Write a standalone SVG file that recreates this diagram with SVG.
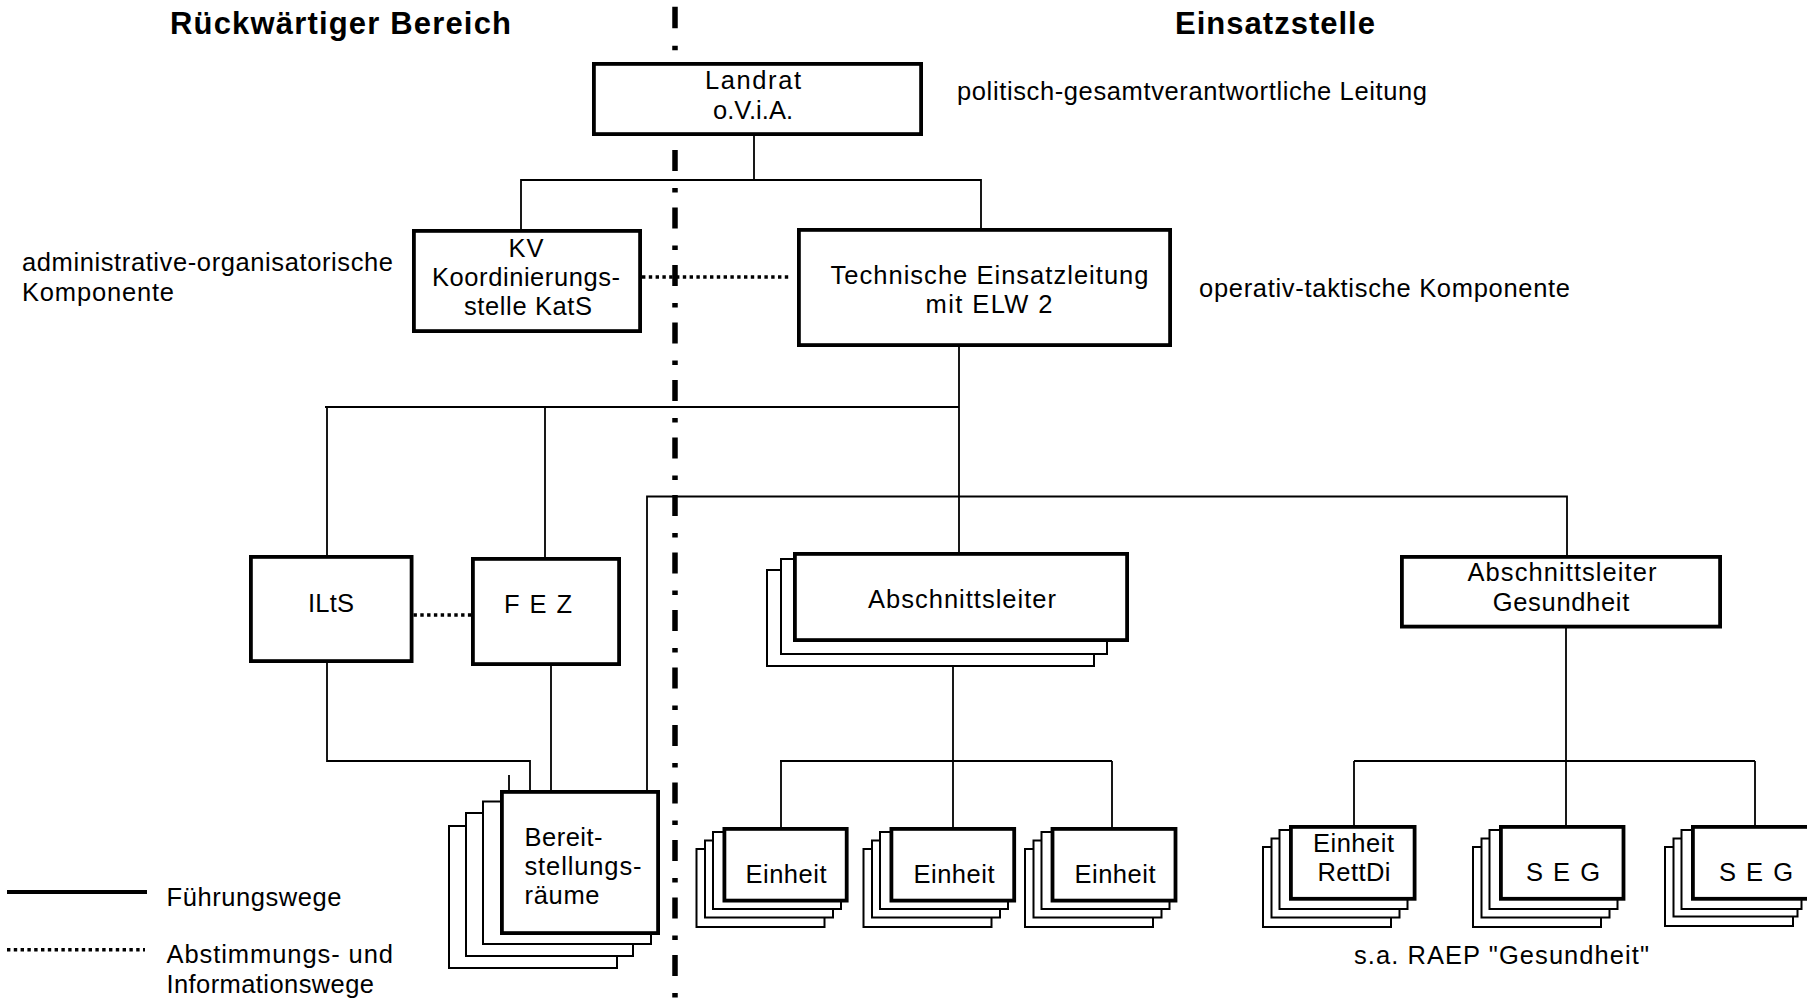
<svg xmlns="http://www.w3.org/2000/svg" width="1807" height="998" viewBox="0 0 1807 998">
<style>
.box{fill:#fff;stroke:#000;stroke-width:3.8}
.layer{fill:#fff;stroke:#000;stroke-width:2}
.ln{fill:none;stroke:#000;stroke-width:1.8}
.dot{fill:none;stroke:#000;stroke-width:3.5;stroke-dasharray:3.4 3.4}
.div{fill:none;stroke:#000;stroke-width:5.5}
.t{font-family:"Liberation Sans",Arial,Helvetica,sans-serif;font-size:25.5px;fill:#000}
.tb{font-weight:bold;font-size:31px}
.m{text-anchor:middle}
</style>
<rect width="1807" height="998" fill="#fff"/>
<g id="divider">
<path class="div" d="M675 6.7V50.5" stroke-dasharray="21.5 17.5 4.5 100"/>
<path class="div" d="M675 150V998" stroke-dasharray="21 17 4.5 15"/>
</g>
<g id="labels">
<text class="t tb" x="170" y="34" textLength="341" lengthAdjust="spacing">Rückwärtiger Bereich</text>
<text class="t tb" x="1175" y="34" textLength="200" lengthAdjust="spacing">Einsatzstelle</text>
<text class="t" x="957" y="100" textLength="470" lengthAdjust="spacing">politisch-gesamtverantwortliche Leitung</text>
<text class="t" x="22" y="271" textLength="371" lengthAdjust="spacing">administrative-organisatorische</text>
<text class="t" x="22" y="300.5" textLength="152" lengthAdjust="spacing">Komponente</text>
<text class="t" x="1199" y="297" textLength="371" lengthAdjust="spacing">operativ-taktische Komponente</text>
<text class="t" x="1354" y="963.5" textLength="295" lengthAdjust="spacing">s.a. RAEP "Gesundheit"</text>
</g>
<g id="legend">
<path d="M7 892H147" fill="none" stroke="#000" stroke-width="4"/>
<path class="dot" d="M7 949.7H145"/>
<text class="t" x="166.5" y="905.5" textLength="175" lengthAdjust="spacing">Führungswege</text>
<text class="t" x="166.5" y="963" textLength="226.5" lengthAdjust="spacing">Abstimmungs- und</text>
<text class="t" x="166.5" y="993" textLength="207.5" lengthAdjust="spacing">Informationswege</text>
</g>
<g id="connectors">
<path class="ln" d="M754 136V180M521 229V180H981V228"/>
<path class="dot" d="M642 277H791"/>
<path class="ln" d="M959 347V552M325 407H959M327 407V555M545 407V557"/>
<path class="dot" d="M413.5 615H471"/>
<path class="ln" d="M327 663V761H530V790M551 666V790M509 775V790"/>
<path class="ln" d="M647 790V496.5H1567V555"/>
<path class="ln" d="M953 667V761M780 761H1112M781 761V827M953 761V827M1112 761V827"/>
<path class="ln" d="M1566 628V825M1354 761H1755M1354 761V825M1755 761V825"/>
</g>
<g id="landrat">
<rect class="box" x="593.9" y="63.9" width="327.2" height="70.2"/>
<text class="t m" x="753" y="89" textLength="96" lengthAdjust="spacing">Landrat</text>
<text class="t m" x="753" y="118.5" textLength="80" lengthAdjust="spacing">o.V.i.A.</text>
</g>
<g id="kv">
<rect class="box" x="413.9" y="230.9" width="226.2" height="100.2"/>
<text class="t m" x="526" y="257" textLength="35" lengthAdjust="spacing">KV</text>
<text class="t m" x="526" y="285.5" textLength="188" lengthAdjust="spacing">Koordinierungs-</text>
<text class="t m" x="528" y="314.5" textLength="128" lengthAdjust="spacing">stelle KatS</text>
</g>
<g id="tel">
<rect class="box" x="798.9" y="229.9" width="371.2" height="115.2"/>
<text class="t m" x="989.5" y="284" textLength="318" lengthAdjust="spacing">Technische Einsatzleitung</text>
<text class="t m" x="989" y="313" textLength="127" lengthAdjust="spacing">mit ELW 2</text>
</g>
<g id="ilts">
<rect class="box" x="250.9" y="556.9" width="160.7" height="104.2"/>
<text class="t m" x="331" y="611.5" textLength="46" lengthAdjust="spacing">ILtS</text>
</g>
<g id="fez">
<rect class="box" x="472.9" y="558.9" width="146.2" height="105.2"/>
<text class="t m" x="538" y="613" textLength="68" lengthAdjust="spacing">F E Z</text>
</g>
<g id="bereitstellungsraeume">
<rect class="layer" x="449" y="826" width="168" height="142"/>
<rect class="layer" x="466" y="813" width="167" height="143"/>
<rect class="layer" x="483" y="801.5" width="168" height="142.5"/>
<rect class="box" x="501.9" y="791.9" width="156.2" height="141.2"/>
<text class="t" x="524.5" y="846" textLength="78" lengthAdjust="spacing">Bereit-</text>
<text class="t" x="524.5" y="875" textLength="117" lengthAdjust="spacing">stellungs-</text>
<text class="t" x="524.5" y="903.5" textLength="75" lengthAdjust="spacing">räume</text>
</g>
<g id="abschnittsleiter">
<rect class="layer" x="767" y="570" width="327" height="96"/>
<rect class="layer" x="781" y="559" width="326" height="95"/>
<rect class="box" x="794.9" y="553.9" width="332.2" height="86.2"/>
<text class="t m" x="962" y="607.5" textLength="188" lengthAdjust="spacing">Abschnittsleiter</text>
</g>
<g id="abschnittsleiter-gesundheit">
<rect class="box" x="1401.9" y="556.9" width="318.2" height="69.7"/>
<text class="t m" x="1562" y="580.5" textLength="189" lengthAdjust="spacing">Abschnittsleiter</text>
<text class="t m" x="1561" y="610.5" textLength="136.5" lengthAdjust="spacing">Gesundheit</text>
</g>
<g id="einheit-1">
<rect class="layer" x="696.5" y="849" width="128" height="78"/>
<rect class="layer" x="705" y="840.5" width="128" height="77"/>
<rect class="layer" x="713" y="832" width="128" height="77"/>
<rect class="box" x="724.4" y="828.9" width="122.3" height="71.7"/>
<text class="t m" x="786" y="882.5" textLength="81" lengthAdjust="spacing">Einheit</text>
</g>
<g id="einheit-2">
<rect class="layer" x="863.5" y="849" width="128" height="78"/>
<rect class="layer" x="872" y="840.5" width="128" height="77"/>
<rect class="layer" x="880" y="832" width="128" height="77"/>
<rect class="box" x="891.4" y="828.9" width="122.8" height="71.7"/>
<text class="t m" x="954" y="882.5" textLength="81" lengthAdjust="spacing">Einheit</text>
</g>
<g id="einheit-3">
<rect class="layer" x="1025" y="849" width="128" height="78"/>
<rect class="layer" x="1033.5" y="840.5" width="128" height="77"/>
<rect class="layer" x="1041.5" y="832" width="128" height="77"/>
<rect class="box" x="1052.5" y="828.9" width="123" height="71.7"/>
<text class="t m" x="1115" y="882.5" textLength="81" lengthAdjust="spacing">Einheit</text>
</g>
<g id="einheit-rettdi">
<rect class="layer" x="1263" y="847" width="128" height="80"/>
<rect class="layer" x="1271.5" y="838.5" width="128" height="79"/>
<rect class="layer" x="1279.5" y="830" width="128" height="79"/>
<rect class="box" x="1290.9" y="826.9" width="123.7" height="71.9"/>
<text class="t m" x="1353.5" y="851.5" textLength="81" lengthAdjust="spacing">Einheit</text>
<text class="t m" x="1354" y="880.5" textLength="73" lengthAdjust="spacing">RettDi</text>
</g>
<g id="seg-1">
<rect class="layer" x="1473" y="847" width="128" height="80"/>
<rect class="layer" x="1481.5" y="838.5" width="128" height="79"/>
<rect class="layer" x="1489.5" y="830" width="128" height="79"/>
<rect class="box" x="1500.9" y="826.9" width="122.6" height="71.9"/>
<text class="t m" x="1563" y="880.5" textLength="74" lengthAdjust="spacing">S E G</text>
</g>
<g id="seg-2">
<rect class="layer" x="1665" y="847" width="128" height="79"/>
<rect class="layer" x="1673.5" y="838.5" width="124" height="78"/>
<rect class="layer" x="1681.5" y="830" width="120" height="79"/>
<rect class="box" x="1692.9" y="826.9" width="123" height="71.9"/>
<text class="t m" x="1756" y="880.5" textLength="74" lengthAdjust="spacing">S E G</text>
</g>
</svg>
